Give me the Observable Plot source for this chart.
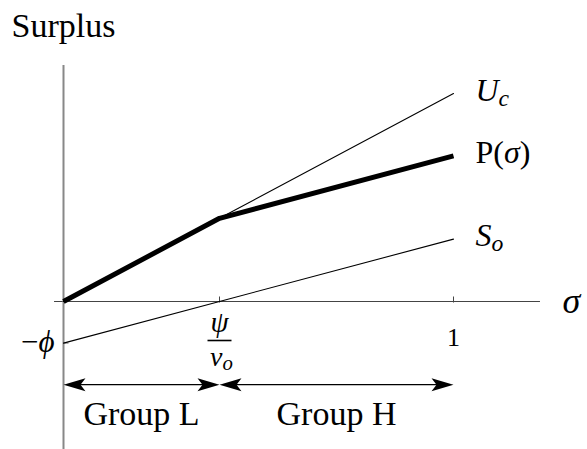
<!DOCTYPE html>
<html>
<head>
<meta charset="utf-8">
<script src="https://cdn.jsdelivr.net/npm/d3@7"></script>
<script src="https://cdn.jsdelivr.net/npm/@observablehq/plot@0.6"></script>
<style>
  html, body { margin: 0; padding: 0; background: #fff; }
  #chart svg { display: block; }
</style>
</head>
<body>
<div id="chart"></div>
<script>
// Surplus as a function of σ: the consumer line U_c, the outside option S_o,
// and the kinked payoff P(σ) that follows U_c up to ψ/v_o and then rises at rate v_o.
const sigma   = [0, 0.4, 1];        // 0, ψ/v_o, 1
const ucVals  = [0, 0.4, 1];        // U_c(σ)
const soVals  = [-0.2, 0, 0.3];     // S_o(σ) = v_o·σ − ϕ
const pVals   = [0, 0.4, 0.7];      // P(σ)
const lineLabels = ["*U*_c", "P(*σ*)", "*S*_o"];   // *…* italic, _x subscript
const phiLabel = "−*ϕ*";
const xTicks = [0.4, 1];
const oneLabel = "1";
const fracNum = "*ψ*";
const fracDen = "*v*_o";
const groupNames  = ["Group L", "Group H"];
const groupStarts = [0, 0.4];
const groupEnds   = [0.4, 1];

const rows = sigma.map((s, i) => ({s, uc: ucVals[i], so: soVals[i], p: pVals[i]}));
const last = rows[rows.length - 1];
const ends = [
  {s: last.s, v: last.uc, label: lineLabels[0]},
  {s: last.s, v: last.p,  label: lineLabels[1]},
  {s: last.s, v: last.so, label: lineLabels[2]}
];
const groups = groupNames.map((name, i) => ({name, a: groupStarts[i], b: groupEnds[i]}));

// Glyphs drawn through Plot.dot
const headRight = {draw(c) { c.moveTo(0, 0); c.lineTo(-22, -6.5); c.lineTo(-17, 0); c.lineTo(-22, 6.5); c.closePath(); }};
const headLeft  = {draw(c) { c.moveTo(0, 0); c.lineTo(22, -6.5); c.lineTo(17, 0); c.lineTo(22, 6.5); c.closePath(); }};
const tickUp    = {draw(c) { c.moveTo(0, 1); c.lineTo(0, -5); }};
const tickRight = {draw(c) { c.moveTo(0, 0); c.lineTo(5, 0); }};
const fracBar   = {draw(c) { c.moveTo(-12, 0); c.lineTo(12, 0); }};

const serif = "'Liberation Serif', 'Times New Roman', serif";
const groupY = -0.4;
const yTop = 1.135, yBottom = -0.72, xLeft = -0.023, xRight = 1.223;

const chart = Plot.plot({
  width: 587,
  height: 449,
  margin: 0,
  style: {fontFamily: serif, background: "#fff", color: "#000"},
  x: {domain: [0, 1], range: [63, 453], axis: null},
  y: {domain: [0, 1], range: [301, 93], axis: null},
  marks: [
    // axes
    Plot.ruleY([0], {x1: xLeft, x2: xRight, stroke: "#444", strokeWidth: 1.1}),
    Plot.ruleX([0], {y1: yBottom, y2: yTop, stroke: "#888", strokeWidth: 2}),
    Plot.dot(xTicks, {x: d => d, y: 0, symbol: tickUp, fill: "none", stroke: "#444", strokeWidth: 1}),
    Plot.dot([soVals[0]], {x: 0, y: d => d, symbol: tickRight, fill: "none", stroke: "#888", strokeWidth: 1.2}),
    // curves
    Plot.line(rows, {x: "s", y: "uc", stroke: "#000", strokeWidth: 1.1}),
    Plot.line(rows, {x: "s", y: "so", stroke: "#000", strokeWidth: 1.1}),
    Plot.line(rows, {x: "s", y: "p", stroke: "#000", strokeWidth: 5, strokeLinejoin: "miter", strokeLinecap: "butt"}),
    // curve labels
    Plot.text(ends, {x: "s", y: "v", text: "label", textAnchor: "start", lineAnchor: "bottom",
      dx: 22, dy: 7, fontSize: 32, className: "rich"}),
    // axis labels
    Plot.text(["Surplus"], {x: 0, y: yTop, text: d => d, textAnchor: "middle", lineAnchor: "bottom",
      dy: -28, fontSize: 34}),
    Plot.text(["*σ*"], {x: xRight, y: 0, text: d => d, textAnchor: "start", lineAnchor: "middle",
      dx: 22, dy: 0, fontSize: 36, className: "rich"}),
    Plot.text([phiLabel], {x: 0, y: soVals[0], text: d => d, textAnchor: "end", lineAnchor: "middle",
      dx: -9, dy: -1, fontSize: 31, className: "rich"}),
    Plot.text([oneLabel], {x: xTicks[1], y: 0, text: d => d, textAnchor: "middle", lineAnchor: "bottom",
      dy: 44, fontSize: 26}),
    // ψ / v_o fraction under its tick
    Plot.text([fracNum], {x: xTicks[0], y: 0, text: d => d, textAnchor: "middle", lineAnchor: "bottom",
      dy: 30, fontSize: 29, className: "rich"}),
    Plot.dot([xTicks[0]], {x: d => d, y: 0, dy: 39, symbol: fracBar, fill: "none", stroke: "#000", strokeWidth: 1.6}),
    Plot.text([fracDen], {x: xTicks[0], y: 0, text: d => d, textAnchor: "middle", lineAnchor: "bottom",
      dx: 2, dy: 64, fontSize: 28, className: "rich"}),
    // group ranges
    Plot.ruleY(groups, {x1: "a", x2: "b", y: groupY, stroke: "#000", strokeWidth: 1.2, insetLeft: 8, insetRight: 8}),
    Plot.dot(groups, {x: "a", y: groupY, symbol: headLeft, fill: "#000", stroke: "none"}),
    Plot.dot(groups, {x: "b", y: groupY, symbol: headRight, fill: "#000", stroke: "none"}),
    Plot.text(groups, {x: d => (d.a + d.b) / 2, y: groupY, text: "name", textAnchor: "middle", lineAnchor: "bottom",
      dy: 40, fontSize: 34})
  ]
});

// Turn the small markup (*italic*, _subscript) into tspans.
function richText(node, src) {
  node.textContent = "";
  const re = /\*([^*]+)\*|_(\w)|([^*_]+)/g;
  let m;
  while ((m = re.exec(src))) {
    const t = document.createElementNS("http://www.w3.org/2000/svg", "tspan");
    if (m[1]) {
      t.textContent = m[1];
      t.setAttribute("font-style", "italic");
    } else if (m[2]) {
      t.textContent = m[2];
      t.setAttribute("font-style", "italic");
      t.setAttribute("font-size", "0.74em");
      t.setAttribute("dy", "0.22em");
    } else {
      t.textContent = m[3];
    }
    node.appendChild(t);
  }
}
chart.querySelectorAll(".rich text").forEach(el => richText(el, el.textContent));

document.getElementById("chart").appendChild(chart);
</script>
</body>
</html>
